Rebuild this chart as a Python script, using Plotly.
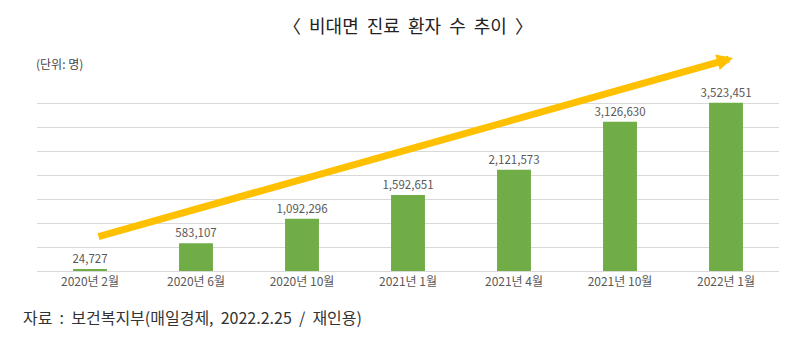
import plotly.graph_objects as go

# 비대면 진료 환자 수 (단위: 명)
periods = ["2020년 2월", "2020년 6월", "2020년 10월", "2021년 1월",
           "2021년 4월", "2021년 10월", "2022년 1월"]
patients = [24727, 583107, 1092296, 1592651, 2121573, 3126630, 3523451]

title_text = "〈 비대면 진료 환자 수 추이 〉"
unit_text = "(단위: 명)"
source_text = "자료 : 보건복지부(매일경제, 2022.2.25 / 재인용)"

FONT = "Noto Sans CJK KR"
GREEN = "#70AD47"
ARROW = "#FFC000"
GRID = "#D9D9D9"
LABEL = "#595959"


def wide(s):
    # 단어 사이 간격을 넓게
    return s.replace(" ", "\u00a0\u00a0")


fig = go.Figure()
fig.add_trace(go.Bar(
    x=periods,
    y=patients,
    width=0.32,
    marker=dict(color=GREEN, line=dict(width=0)),
    text=[f"{v:,}" for v in patients],
    textposition="outside",
    constraintext="none",
    textfont=dict(family=FONT, size=11.5, color=LABEL),
    cliponaxis=False,
))

fig.update_layout(
    width=800,
    height=337,
    margin=dict(l=37, r=21, t=80, b=66),
    paper_bgcolor="white",
    plot_bgcolor="white",
    showlegend=False,
    font=dict(family=FONT, color=LABEL),
    xaxis=dict(
        showgrid=False,
        showline=True,
        linecolor=GRID,
        linewidth=1,
        ticks="",
        tickfont=dict(family=FONT, size=12, color=LABEL),
    ),
    yaxis=dict(
        range=[0, 4000000],
        dtick=500000,
        showgrid=True,
        gridcolor=GRID,
        gridwidth=1,
        showticklabels=False,
        zeroline=False,
        ticks="",
    ),
)

# 제목, 단위, 출처
fig.add_annotation(text=wide(title_text), xref="paper", yref="paper",
                   x=0.5, y=1, yshift=55, xanchor="center", yanchor="middle",
                   showarrow=False, font=dict(family=FONT, size=18, color="#222222"))
fig.add_annotation(text=unit_text, xref="paper", yref="paper",
                   x=0, xshift=-3, y=1, yshift=17, xanchor="left", yanchor="middle",
                   showarrow=False, font=dict(family=FONT, size=12, color="#444444"))
fig.add_annotation(text=wide(source_text), xref="paper", yref="paper",
                   x=0, xshift=-16, y=0, yshift=-46, xanchor="left", yanchor="middle",
                   showarrow=False, font=dict(family=FONT, size=16, color="#333333"))

# 증가 추세 화살표 (끝점은 paper 좌표, 시작점은 픽셀 오프셋)
fig.add_annotation(text="", xref="paper", yref="paper",
                   x=(733 - 37) / 742, y=(271 - 58) / 191,
                   axref="pixel", ayref="pixel", ax=-636, ay=179,
                   showarrow=True, arrowhead=2, arrowsize=0.46, arrowwidth=7,
                   arrowcolor=ARROW, standoff=0, startstandoff=0)

fig.write_html("out.html")
